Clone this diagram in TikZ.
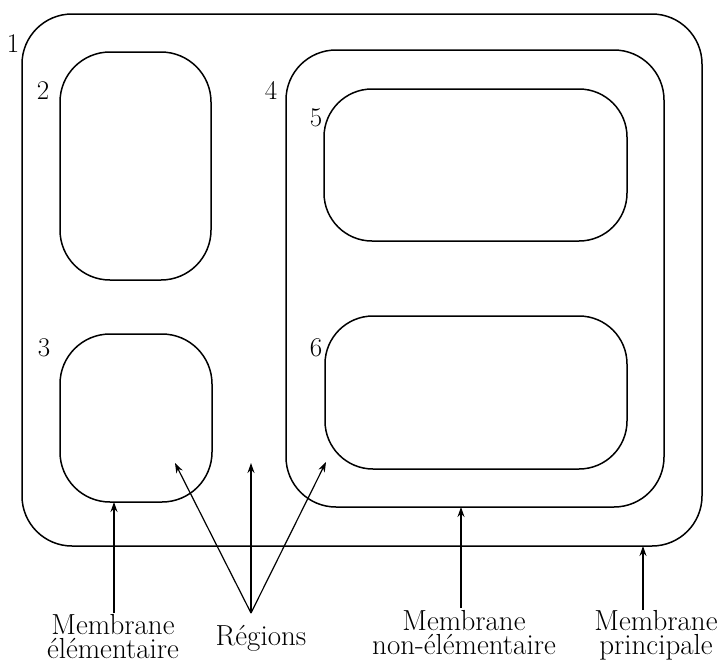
\documentclass[tikz,border=0pt]{standalone}
\usetikzlibrary{arrows.meta}
\begin{document}
\begin{tikzpicture}[x=1pt,y=-1pt,
  membrane/.style={draw, line width=1.5pt, rounded corners=50pt, inner sep=0pt, outer sep=0pt},
  num/.style={inner sep=0pt, font=\fontsize{27}{27}\selectfont},
  lbl/.style={inner sep=0pt, align=center, font=\fontsize{29}{24}\selectfont},
  arr/.style={line width=1.2pt, -{Stealth[length=10pt,width=7pt]}}]
\useasboundingbox (0,0) rectangle (724,662);
% membranes
\node[membrane, minimum width=680pt, minimum height=532pt] (b1) at (362,280) {};
\node[membrane, minimum width=151pt, minimum height=228pt] (b2) at (135.5,166) {};
\node[membrane, minimum width=152pt, minimum height=168pt] (b3) at (136,418) {};
\node[membrane, minimum width=378pt, minimum height=457pt] (b4) at (475,278.5) {};
\node[membrane, rounded corners=48pt, minimum width=303pt, minimum height=152pt] (b5) at (475.5,165) {};
\node[membrane, rounded corners=48pt, minimum width=302pt, minimum height=153pt] (b6) at (476,392.5) {};
% numbers
\node[num] (n1) at (13,44) {1};
\node[num] (n2) at (43,91) {2};
\node[num] (n3) at (44,348) {3};
\node[num] (n4) at (271,90) {4};
\node[num] (n5) at (316,118) {5};
\node[num] (n6) at (316,348) {6};
% labels
\node[lbl, anchor=north] (l1) at (113,614) {Membrane\\élémentaire};
\node[lbl, anchor=base] (l2) at (261,645) {Régions};
\node[lbl, anchor=north] (l3) at (464,610) {Membrane\\non-élémentaire};
\node[lbl, anchor=north] (l4) at (656,610) {Membrane\\principale};
% arrow start points and free ends
\coordinate (a1) at (114,613);
\coordinate (a2) at (251,613);
\coordinate (a3) at (461,608);
\coordinate (a4) at (643,610);
\coordinate (r1) at (175,463);
\coordinate (r2) at (251,463);
\coordinate (r3) at (326,462);
% arrows
\draw[arr] (a1) -- (a1 |- b3.south);
\draw[arr] (a2) -- (r1);
\draw[arr] (a2) -- (r2);
\draw[arr] (a2) -- (r3);
\draw[arr] (a3) -- (a3 |- b4.south);
\draw[arr] (a4) -- (a4 |- b1.south);
\end{tikzpicture}
\end{document}
